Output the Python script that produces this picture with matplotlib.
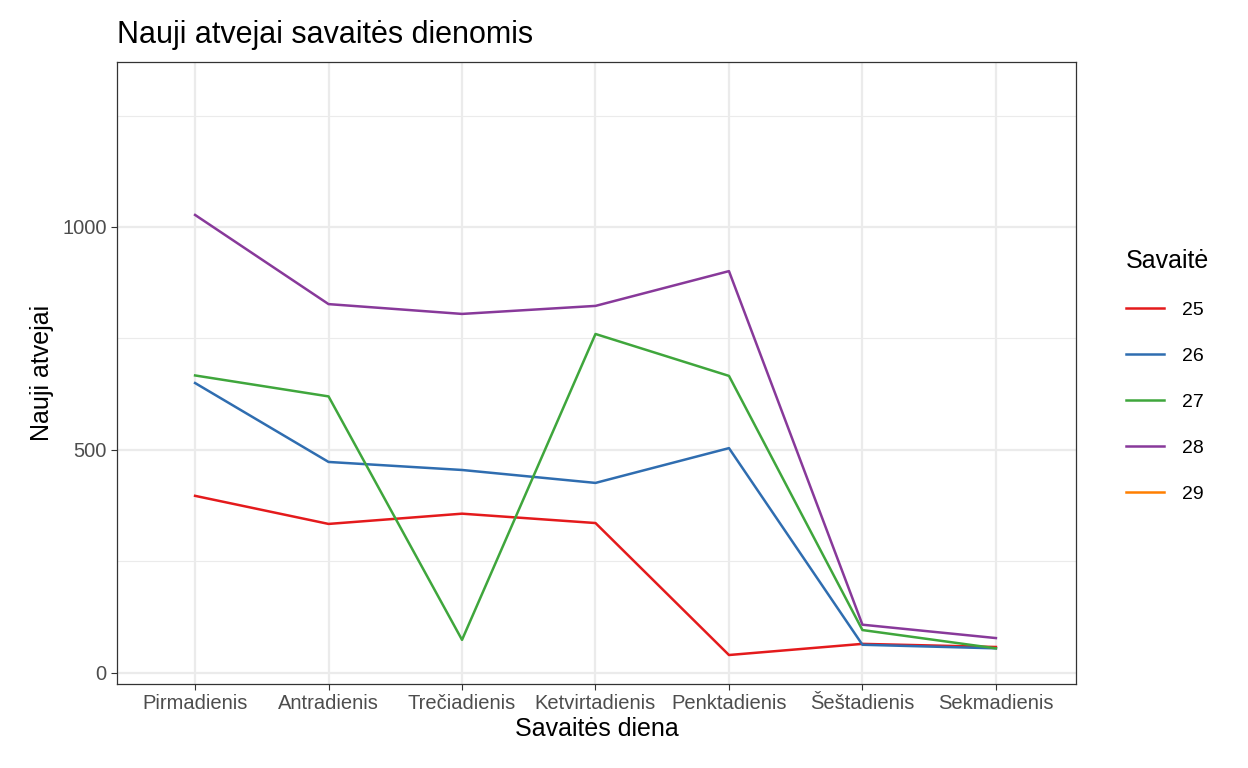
import matplotlib
matplotlib.use("Agg")
import matplotlib.pyplot as plt
from matplotlib.lines import Line2D

days = ["Pirmadienis", "Antradienis", "Trečiadienis", "Ketvirtadienis", "Penktadienis", "Šeštadienis", "Sekmadienis"]
w25 = [397, 334, 357, 336, 40, 65, 58]
w26 = [650, 473, 455, 426, 504, 63, 55]
w27 = [667, 620, 74, 760, 666, 96, 55]
w28 = [1027, 827, 805, 823, 901, 108, 78]
weeks = ["25", "26", "27", "28", "29"]
colors = ["#E41A1C", "#2F6DB0", "#3FA63C", "#88399A", "#FF7F00"]

plt.rcParams['font.family'] = ['Liberation Sans', 'DejaVu Sans']
fig = plt.figure(figsize=(12.48, 7.68), dpi=100)
ax = fig.add_axes([117/1248, 1-684/768, (1076-117)/1248, (684-62)/768])
x = list(range(len(days)))
for s, c in zip([w25, w26, w27, w28], colors):
    ax.plot(x, s, color=c, lw=1.8, zorder=3)
ax.set_xlim(-0.585, 6.6)
ax.set_ylim(-25, 1370)
ax.set_xticks(x)
ax.set_xticklabels(days, fontsize=14.5, color="#4D4D4D")
ax.set_yticks([0, 500, 1000])
ax.set_yticks([250, 750, 1250], minor=True)
ax.tick_params(axis='y', labelsize=14.5, labelcolor="#4D4D4D", length=4, color="#333333")
ax.tick_params(axis='y', which='minor', length=0)
ax.tick_params(axis='x', length=4, color="#333333", pad=3)
ax.grid(True, which='major', color="#EBEBEB", lw=1.6)
ax.grid(True, which='minor', axis='y', color="#EBEBEB", lw=0.8)
ax.set_axisbelow(True)
for sp in ax.spines.values():
    sp.set_color("#333333"); sp.set_linewidth(0.9)
ax.set_xlabel("Savaitės diena", fontsize=18, labelpad=3)
ax.set_ylabel("Nauji atvejai", fontsize=18, labelpad=6)
ax.set_title("Nauji atvejai savaitės dienomis", fontsize=22, loc='left', x=0, pad=14)
handles = [Line2D([], [], color=c, lw=1.8) for c in colors]
leg = fig.legend(handles, weeks, title="Savaitė", loc='upper left', bbox_to_anchor=(1108/1248, 1-232/768),
                 frameon=False, fontsize=14, title_fontsize=18, handlelength=2, labelspacing=1.45,
                 handletextpad=0.9)
leg._legend_box.align = "left"
fig.savefig("out.png", dpi=100)
